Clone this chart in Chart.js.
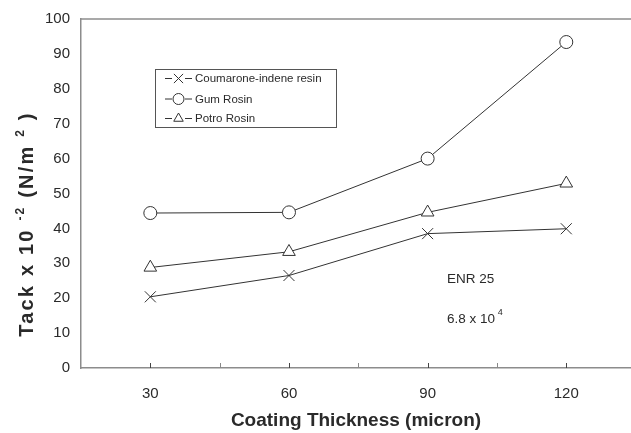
<!DOCTYPE html>
<html><head><meta charset="utf-8">
<script src="https://cdn.jsdelivr.net/npm/chart.js@4/dist/chart.umd.min.js"></script>
<style>html,body{margin:0;padding:0;background:#fff;overflow:hidden}</style>
</head><body>
<canvas id="c" width="631" height="433"></canvas>
<script>
const thickness = [30, 60, 90, 120];
const coumaroneIndene = [20.4, 26.5, 38.5, 39.9];
const gumRosin = [44.4, 44.6, 60.0, 93.4];
const petroRosin = [28.8, 33.3, 44.6, 52.9];
const seriesLabels = ['Coumarone-indene resin', 'Gum Rosin', 'Potro Rosin'];
const xLabelTicks = [30, 60, 90, 120];
const xMinorTicks = [45, 75, 105];
const yTitleParts = [['Tack x 10 ', false], ['-2', true], [' (N/m ', false], ['2', true], [' )', false]];
const xTitle = 'Coating Thickness (micron)';
const noteLine1 = 'ENR 25';
const noteLine2 = ['6.8 x 10', '4'];

const FONT = "'Liberation Sans', Arial, sans-serif";
const INK = '#2a2a2a';
const AXIS = '#8c8c8c';

function pts(vals) { return thickness.map((x, i) => ({x: x, y: vals[i]})); }

const styles = [
  {pointStyle: 'crossRot', radius: 7.8},
  {pointStyle: 'circle', radius: 6.5},
  {pointStyle: 'triangle', radius: 7.3}
];
const seriesData = [coumaroneIndene, gumRosin, petroRosin];

const datasets = seriesData.map((vals, i) => ({
  label: seriesLabels[i],
  data: pts(vals),
  borderColor: '#333',
  borderWidth: 1,
  backgroundColor: '#fff',
  pointStyle: styles[i].pointStyle,
  pointRadius: styles[i].radius,
  pointBorderWidth: 1,
  pointBorderColor: '#333',
  pointBackgroundColor: '#fff',
  tension: 0,
  order: 3 - i
}));

const decor = {
  id: 'decor',
  afterDraw(chart) {
    const ctx = chart.ctx;
    const a = chart.chartArea;
    const xs = chart.scales.x;
    ctx.save();
    // top frame line
    ctx.strokeStyle = AXIS; ctx.lineWidth = 1.5;
    ctx.beginPath(); ctx.moveTo(a.left, a.top); ctx.lineTo(a.right, a.top); ctx.stroke();
    // inward x ticks
    xLabelTicks.concat(xMinorTicks).forEach(v => {
      const px = Math.round(xs.getPixelForValue(v)) + 0.5;
      const major = xLabelTicks.includes(v);
      ctx.strokeStyle = major ? '#444' : '#888';
      ctx.lineWidth = 1;
      ctx.beginPath(); ctx.moveTo(px, a.bottom); ctx.lineTo(px, a.bottom - 5); ctx.stroke();
    });
    // y title with superscripts
    ctx.fillStyle = INK;
    ctx.textBaseline = 'alphabetic';
    ctx.textAlign = 'left';
    const mainF = 'bold 20px ' + FONT, supF = 'bold 12px ' + FONT;
    try { ctx.letterSpacing = '2.2px'; } catch (e) {}
    let total = 0;
    yTitleParts.forEach(p => { ctx.font = p[1] ? supF : mainF; total += ctx.measureText(p[0]).width; });
    ctx.translate(33, 224);
    ctx.rotate(-Math.PI / 2);
    let x = -total / 2;
    yTitleParts.forEach(p => {
      ctx.font = p[1] ? supF : mainF;
      ctx.fillText(p[0], x, p[1] ? -9 : 0);
      x += ctx.measureText(p[0]).width;
    });
    ctx.setTransform(1, 0, 0, 1, 0, 0);
    try { ctx.letterSpacing = '0px'; } catch (e) {}
    // legend
    ctx.strokeStyle = '#555'; ctx.lineWidth = 1;
    ctx.strokeRect(155.5, 69.5, 181, 58);
    const rowY = [78.5, 99, 118.5];
    chart.data.datasets.forEach((ds, i) => {
      const y = rowY[i];
      ctx.strokeStyle = '#333'; ctx.lineWidth = 1;
      ctx.beginPath(); ctx.moveTo(165, y); ctx.lineTo(172, y); ctx.moveTo(185, y); ctx.lineTo(192, y); ctx.stroke();
      ctx.fillStyle = '#fff'; ctx.strokeStyle = '#333';
      Chart.helpers.drawPoint(ctx, {pointStyle: ds.pointStyle, radius: ds.pointStyle === 'crossRot' ? 6.5 : 5.5, borderWidth: 1, rotation: 0}, 178.5, y);
      ctx.fillStyle = INK; ctx.font = '11.5px ' + FONT; ctx.textBaseline = 'middle';
      ctx.fillText(ds.label, 195, y + 0.5);
    });
    // notes
    ctx.fillStyle = INK; ctx.font = '13.5px ' + FONT; ctx.textBaseline = 'middle';
    ctx.fillText(noteLine1, 447, 279);
    ctx.fillText(noteLine2[0], 447, 319);
    const w = ctx.measureText(noteLine2[0] + ' ').width;
    ctx.font = '9px ' + FONT;
    ctx.fillText(noteLine2[1], 447 + w - 1, 313);
    ctx.restore();
  }
};

new Chart(document.getElementById('c'), {
  type: 'line',
  data: {datasets: datasets},
  options: {
    responsive: false,
    animation: false,
    devicePixelRatio: 1,
    layout: {padding: {top: 19, right: 0, left: 0, bottom: 0}, autoPadding: false},
    plugins: {legend: {display: false}, tooltip: {enabled: false}},
    scales: {
      x: {
        type: 'linear', min: 15, max: 134,
        afterFit(s) { s.height = 65; s.paddingLeft = 0; s.paddingRight = 0; },
        afterBuildTicks(s) { s.ticks = xLabelTicks.map(v => ({value: v})); },
        ticks: {color: INK, font: {family: FONT, size: 15}, padding: 17, maxRotation: 0},
        grid: {display: true, drawOnChartArea: false, drawTicks: false},
        border: {color: AXIS, width: 1.5},
        title: {display: true, text: xTitle, color: INK, font: {family: FONT, size: 19, weight: 'bold'}, padding: {top: 0, bottom: 1}}
      },
      y: {
        min: 0, max: 100,
        afterFit(s) { s.width = 81; s.paddingTop = 0; s.paddingBottom = 0; },
        ticks: {stepSize: 10, color: INK, font: {family: FONT, size: 15}, padding: 11},
        grid: {display: false, drawTicks: false},
        border: {color: AXIS, width: 1.5}
      }
    }
  },
  plugins: [decor]
});
</script>
</body></html>
